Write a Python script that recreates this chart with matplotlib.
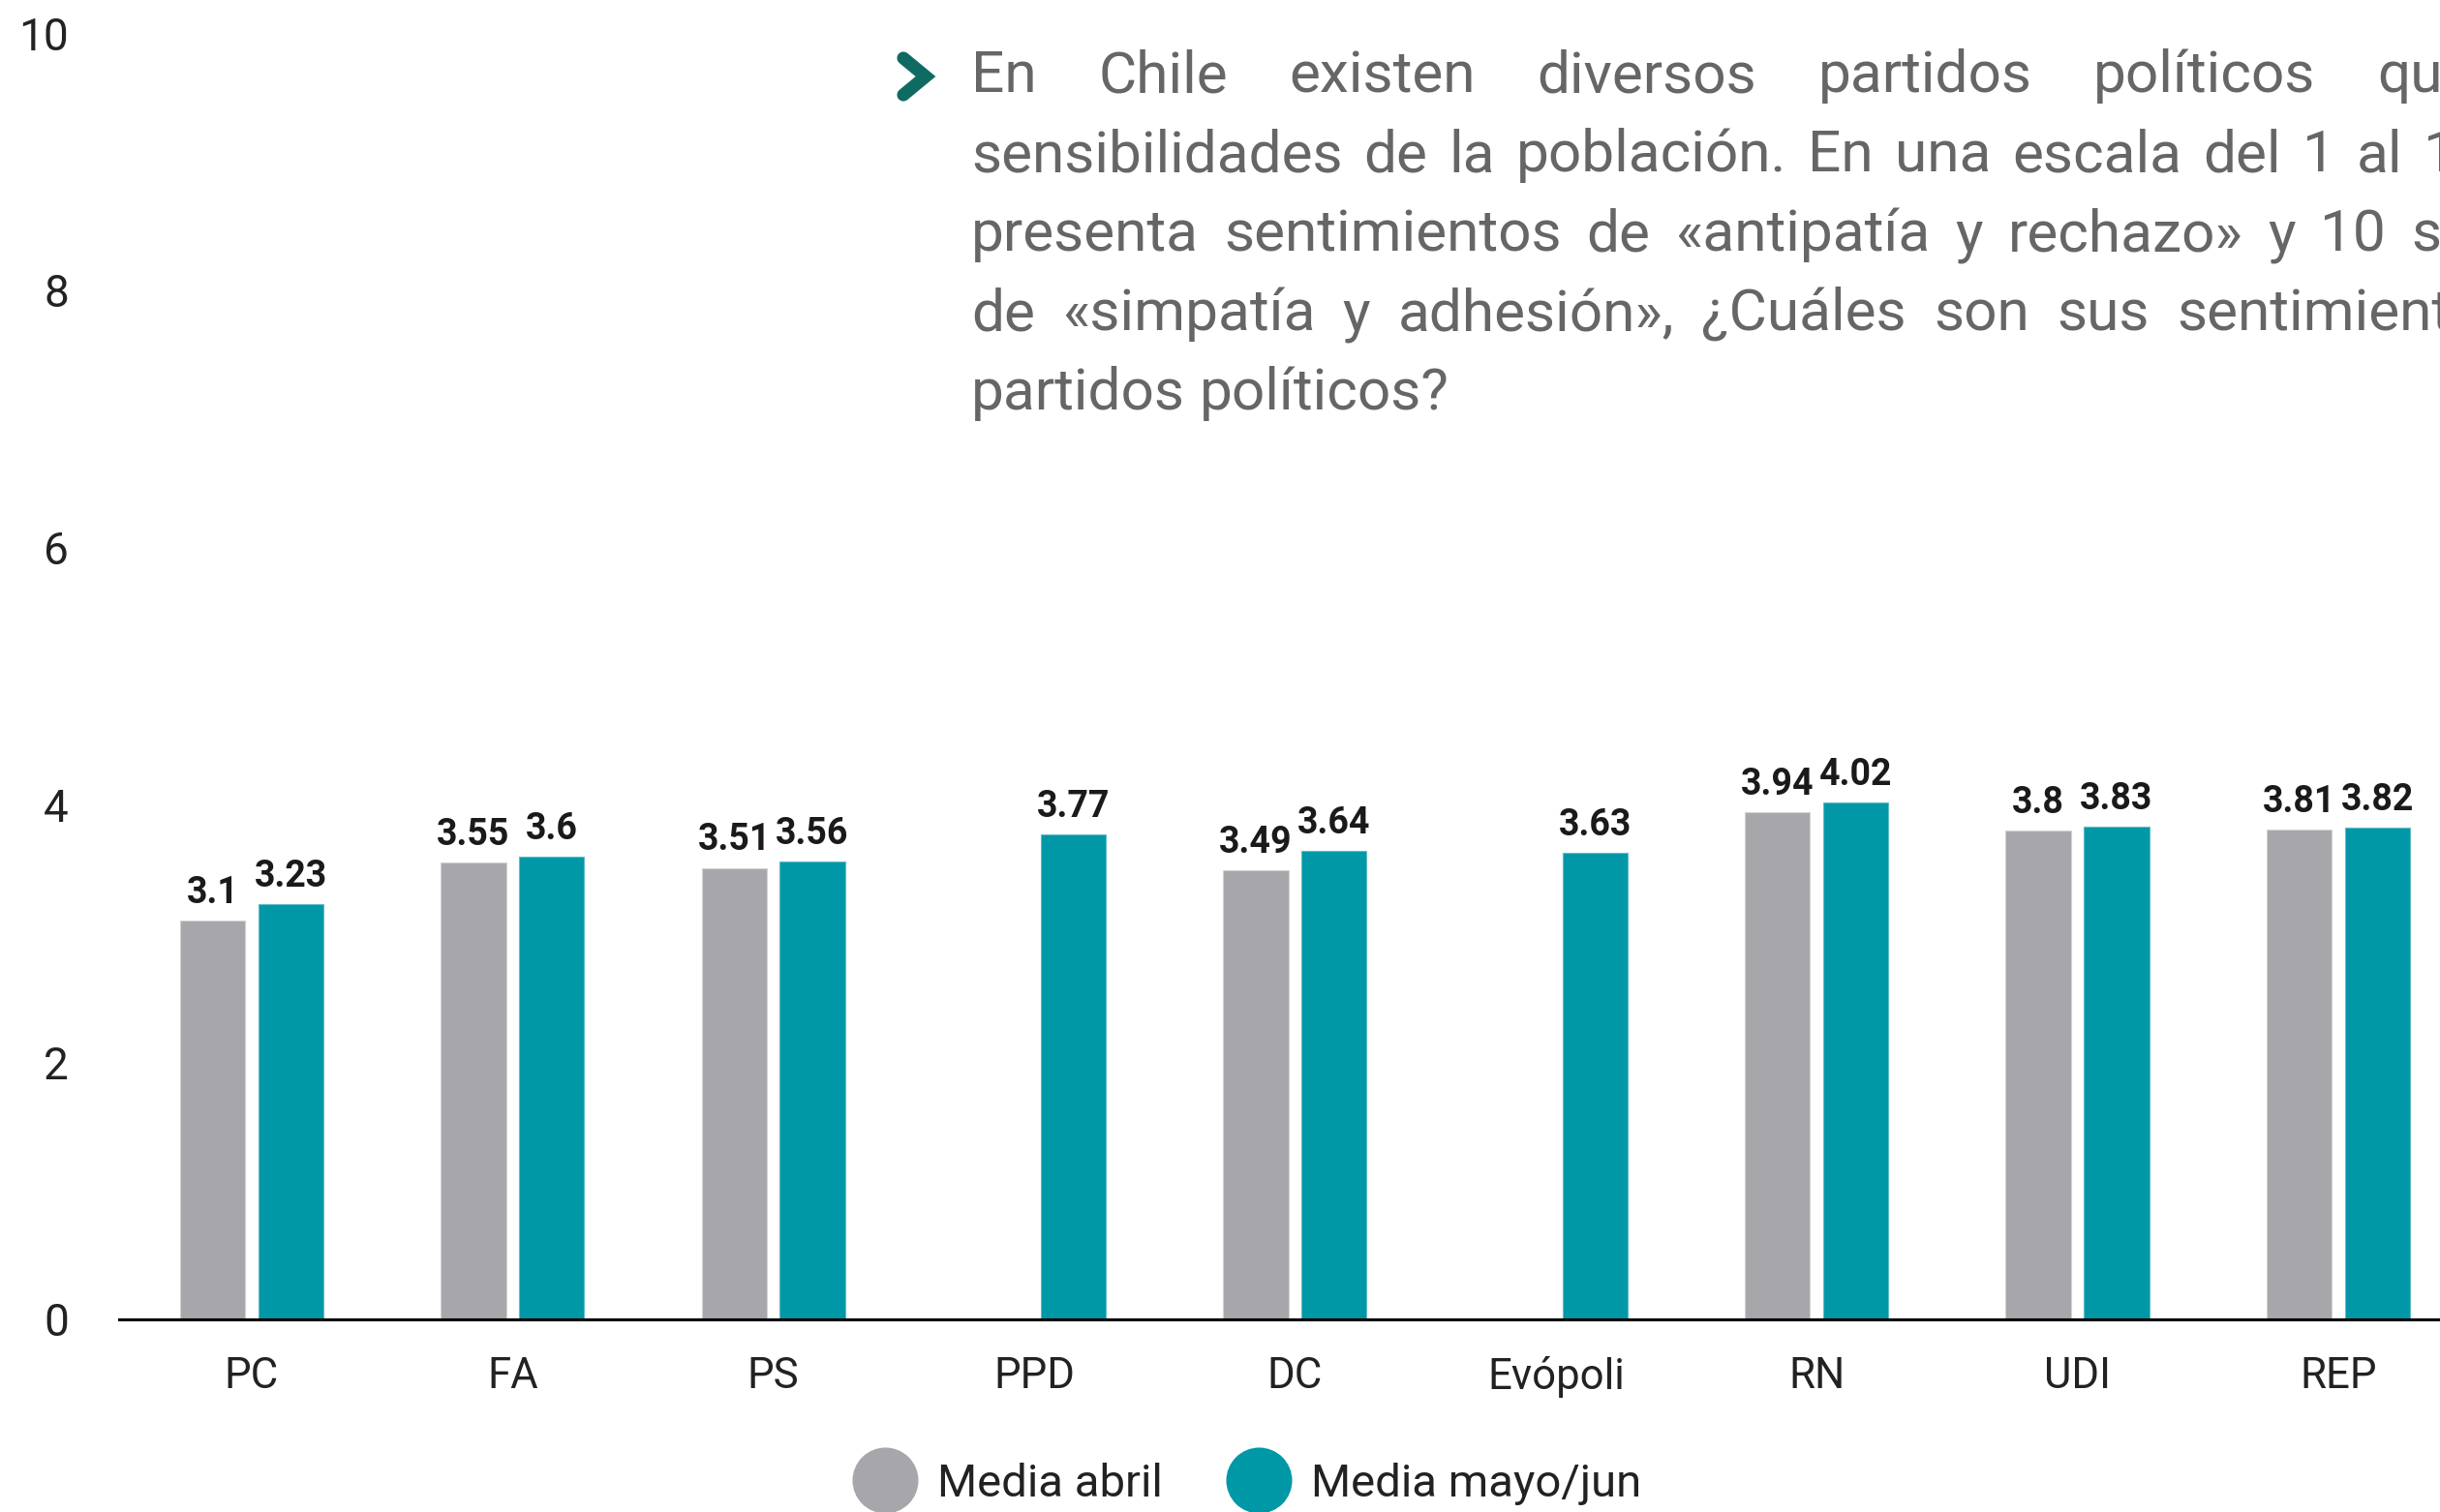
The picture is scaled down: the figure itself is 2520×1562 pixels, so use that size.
import numpy as np
import matplotlib
matplotlib.use("Agg")
import matplotlib.pyplot as plt
from matplotlib.lines import Line2D

# ---------------- data ----------------
categories = ['PC', 'FA', 'PS', 'PPD', 'DC', 'Evópoli', 'RN', 'UDI', 'REP']
media_abril = [3.1, 3.55, 3.51, np.nan, 3.49, np.nan, 3.94, 3.8, 3.81]
media_mayo_jun = [3.23, 3.6, 3.56, 3.77, 3.64, 3.63, 4.02, 3.83, 3.82]
series_names = ['Media abril', 'Media mayo/jun']
y_ticks = [0, 2, 4, 6, 8, 10]

question_lines = [
    "En Chile existen diversos partidos políticos que representan las distintas",
    "sensibilidades de la población. En una escala del 1 al 10, donde 1 re-",
    "presenta sentimientos de «antipatía y rechazo» y 10 sentimientos",
    "de «simpatía y adhesión», ¿Cuáles son sus sentimientos hacia los siguientes",
    "partidos políticos?",
]
# justification anchors: (word index, target x of its left edge in px) per line
just_anchor = [(6, 2455), (10, 2503), (8, 2490), (7, 2248), None]

# ---------------- style ----------------
GRAY = '#A7A6AA'
TEAL = '#0097A7'
CHEVRON = '#0F6B62'
TEXT_GRAY = '#666666'
DARK = '#222222'

W, H = 2520, 1562
fig = plt.figure(figsize=(W / 100, H / 100), dpi=100)
ax = fig.add_axes([122.5 / W, 199 / H, 1 - 122.5 / W, 1329 / H])

x = np.arange(len(categories))
bw = 0.25
off = 0.15
ax.bar(x - off, media_abril, bw, color=GRAY, edgecolor='#D2D2D4', linewidth=0.8)
ax.bar(x + off, media_mayo_jun, bw, color=TEAL, edgecolor='#5FBCC6', linewidth=0.8)

label_font = dict(family=['Liberation Sans Narrow', 'Roboto', 'DejaVu Sans'],
                  weight='bold', size=27, color='#1a1a1a')
for xs, vals in ((x - off, media_abril), (x + off, media_mayo_jun)):
    for xi, v in zip(xs, vals):
        if np.isnan(v):
            continue
        ax.annotate(f"{v:g}", (xi, v), xytext=(0, 13), textcoords='offset points',
                    ha='center', va='baseline', **label_font)

ax.set_xlim(-0.51, 8.39)
ax.set_ylim(0, 10)
ax.set_yticks(y_ticks)
ax.set_yticklabels([str(t) for t in y_ticks], family='Roboto', size=33, color=DARK)
ax.set_xticks(x)
ax.set_xticklabels(categories, family='Roboto', size=31.5, color=DARK)
ax.tick_params(axis='y', length=0, pad=37)
ax.tick_params(axis='x', length=0, pad=27)
for s in ('top', 'right', 'left'):
    ax.spines[s].set_visible(False)
ax.spines['bottom'].set_color('black')
ax.spines['bottom'].set_linewidth(2.2)

# ---------------- question text (justified) ----------------
tfont = dict(family=['Roboto', 'DejaVu Sans'], size=43.5, color=TEXT_GRAY)
renderer = fig.canvas.get_renderer()


def text_width(s):
    t = fig.text(0, 0, s, **tfont)
    w = t.get_window_extent(renderer).width
    t.remove()
    return w


space_w = text_width("n n") - text_width("nn")
x0 = 1003
base0 = 95
lh = 82
for i, line in enumerate(question_lines):
    yb = 1 - (base0 + i * lh) / H
    words = line.split(" ")
    widths = [text_width(w) for w in words]
    gap = space_w
    if just_anchor[i] is not None:
        k, target = just_anchor[i]
        gap = max(space_w, (target - x0 - sum(widths[:k])) / k)
    xpos = x0
    for w, wd in zip(words, widths):
        if xpos > W:
            break
        fig.text(xpos / W, yb, w, ha='left', va='baseline', **tfont)
        xpos += wd + gap

# chevron bullet
chev = Line2D([933 / W, 956 / W, 933 / W], [1 - 60 / H, 1 - 79 / H, 1 - 98 / H],
              transform=fig.transFigure, color=CHEVRON, linewidth=9.5,
              solid_capstyle='round', solid_joinstyle='miter')
fig.add_artist(chev)

# ---------------- legend ----------------
handles = [Line2D([], [], marker='o', ls='none', markersize=49,
                  markerfacecolor=GRAY, markeredgecolor='none'),
           Line2D([], [], marker='o', ls='none', markersize=49,
                  markerfacecolor=TEAL, markeredgecolor='none')]
leg = fig.legend(handles, series_names, loc='center', bbox_to_anchor=(1288 / W, 29 / H),
                 ncol=2, frameon=False, handlelength=1.4, handletextpad=0.45,
                 columnspacing=1.4, borderpad=0, prop=dict(family='Roboto', size=34))
for t in leg.get_texts():
    t.set_color(DARK)

fig.savefig('out.png', dpi=100)
